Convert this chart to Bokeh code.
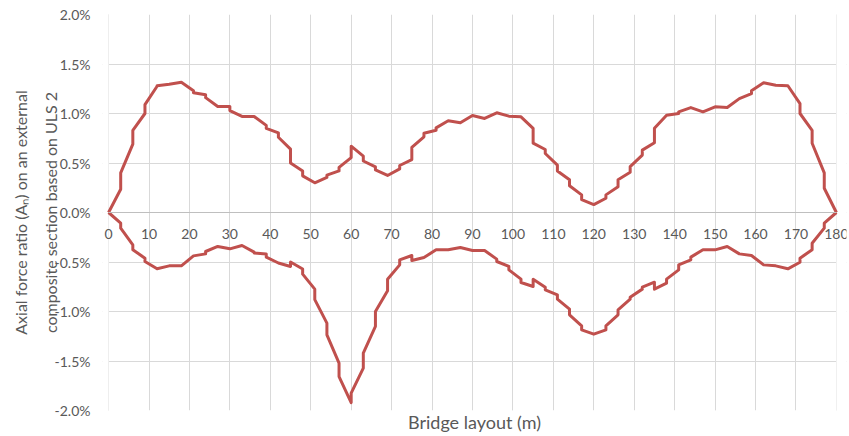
from bokeh.plotting import figure
from bokeh.models import LinearAxis, FixedTicker, PrintfTickFormatter, Range1d, Grid, BoxAnnotation
from bokeh.embed import file_html
from bokeh.resources import INLINE

# Bridge layout positions (m) and axial force ratio (%) - upper envelope
upper_x = [0, 3, 3, 6, 6, 9, 9, 12, 12, 15, 18, 21, 21, 24, 24, 27, 30, 30, 33, 36,
           39, 39, 42, 42, 45, 45, 48, 48, 51, 54, 54, 57, 57, 60, 60, 63, 63, 66, 66, 69,
           72, 72, 75, 75, 78, 78, 81, 81, 84, 87, 90, 93, 96, 99, 102, 105, 105, 108, 108,
           111, 111, 114, 114, 117, 117, 120, 123, 123, 126, 126, 129, 129, 132, 132, 135, 135,
           138, 141, 141, 144, 147, 150, 153, 156, 159, 159, 162, 165, 168, 171, 171, 174, 174,
           177, 177, 180]
upper_v = [0, 0.235, 0.40, 0.69, 0.83, 1.0, 1.09, 1.275, 1.28, 1.295, 1.315, 1.23, 1.21, 1.19, 1.16, 1.07, 1.07, 1.03, 0.97, 0.97,
           0.88, 0.85, 0.805, 0.76, 0.64, 0.50, 0.42, 0.37, 0.30, 0.354, 0.377, 0.42, 0.455, 0.555, 0.67, 0.57, 0.52, 0.46, 0.43, 0.374,
           0.44, 0.475, 0.535, 0.657, 0.764, 0.80, 0.83, 0.855, 0.926, 0.906, 0.98, 0.95, 1.007, 0.973, 0.966, 0.85, 0.70, 0.636, 0.596,
           0.478, 0.42, 0.33, 0.27, 0.178, 0.13, 0.08, 0.144, 0.178, 0.26, 0.33, 0.406, 0.463, 0.58, 0.63, 0.705, 0.85,
           0.983, 1.0, 1.017, 1.06, 1.017, 1.067, 1.06, 1.15, 1.20, 1.23, 1.31, 1.285, 1.28, 1.10, 1.0, 0.83, 0.70,
           0.40, 0.245, 0]

# lower envelope
lower_x = [0, 3, 3, 6, 6, 9, 9, 12, 15, 18, 21, 24, 24, 27, 30, 33, 36, 36, 39, 39,
           42, 45, 45, 48, 48, 51, 51, 54, 54, 57, 57, 60, 60, 63, 63, 66, 66, 69, 69,
           72, 72, 75, 75, 78, 81, 84, 87, 90, 93, 96, 96, 99, 99, 102, 102, 105, 105,
           108, 108, 111, 111, 114, 114, 117, 117, 120, 123, 123, 126, 126, 129, 129,
           132, 132, 135, 135, 138, 138, 141, 141, 144, 144, 147, 150, 153, 156, 159,
           162, 165, 168, 171, 171, 174, 174, 177, 177, 180]
lower_v = [0, -0.108, -0.158, -0.327, -0.377, -0.461, -0.495, -0.569, -0.539, -0.539, -0.438, -0.418, -0.394, -0.343, -0.367, -0.333, -0.40, -0.41, -0.42, -0.451,
           -0.51, -0.545, -0.50, -0.57, -0.623, -0.774, -0.88, -1.118, -1.236, -1.522, -1.657, -1.92, -1.825, -1.572, -1.42, -1.15, -1.0, -0.79, -0.675,
           -0.529, -0.478, -0.434, -0.485, -0.455, -0.377, -0.377, -0.354, -0.384, -0.384, -0.471, -0.495, -0.545, -0.579, -0.673, -0.707, -0.747, -0.673,
           -0.754, -0.781, -0.832, -0.875, -0.976, -1.034, -1.145, -1.185, -1.229, -1.185, -1.145, -1.034, -0.983, -0.875, -0.855,
           -0.774, -0.754, -0.704, -0.774, -0.714, -0.673, -0.579, -0.529, -0.478, -0.451, -0.377, -0.377, -0.343, -0.418, -0.434,
           -0.529, -0.539, -0.569, -0.502, -0.461, -0.377, -0.31, -0.158, -0.108, 0]

x_ticks = [0, 10, 20, 30, 40, 50, 60, 70, 80, 90, 100, 110, 120, 130, 140, 150, 160, 170, 180]
y_ticks = [-2.0, -1.5, -1.0, -0.5, 0.0, 0.5, 1.0, 1.5, 2.0]

assert len(upper_x) == len(upper_v)
assert len(lower_x) == len(lower_v)

FONT = "Lato"
GREY_TXT = "#595959"
GRID = "#D9D9D9"
RED = "#C0504D"

X0, X1 = x_ticks[0], x_ticks[-1]

p = figure(width=849, height=436, output_backend="svg", toolbar_location=None,
           x_range=Range1d(X0 - 1.5, X1 + 2.5), y_range=Range1d(y_ticks[0], y_ticks[-1]),
           x_axis_location=None,
           min_border_left=102, min_border_right=3, min_border_top=14, min_border_bottom=26)
p.outline_line_color = None
p.background_fill_color = "white"
p.border_fill_color = "white"

# y axis
p.yaxis.ticker = FixedTicker(ticks=y_ticks)
p.yaxis.formatter = PrintfTickFormatter(format="%.1f%%")
p.yaxis.major_tick_line_color = None
p.yaxis.minor_tick_line_color = None
p.yaxis.axis_line_color = None
p.yaxis.major_label_standoff = 6
p.yaxis.major_label_text_font = FONT
p.yaxis.major_label_text_font_size = "14px"
p.yaxis.major_label_text_color = GREY_TXT
p.yaxis.axis_label = "Axial force ratio (A\u2099) on an external\ncomposite section based on ULS 2"
p.yaxis.axis_label_text_font = FONT
p.yaxis.axis_label_text_font_size = "16px"
p.yaxis.axis_label_text_font_style = "normal"
p.yaxis.axis_label_text_color = GREY_TXT
p.yaxis.axis_label_standoff = -8
p.yaxis.axis_label_text_line_height = 1.55

p.ygrid.ticker = FixedTicker(ticks=y_ticks)
p.ygrid.grid_line_color = GRID

xgrid = Grid(dimension=0, ticker=FixedTicker(ticks=x_ticks), grid_line_color=GRID)
p.add_layout(xgrid)

# white masks so the horizontal gridlines stop at 0 and 180 m
p.add_layout(BoxAnnotation(right=X0, fill_color="white", fill_alpha=1, line_color=None, level="underlay"))
p.add_layout(BoxAnnotation(left=X1, fill_color="white", fill_alpha=1, line_color=None, level="underlay"))

# x axis drawn at y = 0
xaxis0 = LinearAxis(ticker=FixedTicker(ticks=x_ticks), fixed_location=0, bounds=(X0, X1),
                    major_tick_line_color=None, minor_tick_line_color=None,
                    axis_line_color="#BFBFBF", major_label_standoff=10,
                    major_label_text_font=FONT, major_label_text_font_size="14px",
                    major_label_text_color=GREY_TXT)
p.add_layout(xaxis0, "below")

# x axis title
xtitle = LinearAxis(ticker=FixedTicker(ticks=[]), axis_label="Bridge layout (m)",
                    axis_line_color=None, major_tick_line_color=None, minor_tick_line_color=None,
                    major_label_text_font_size="0px", axis_label_standoff=0,
                    axis_label_text_font=FONT, axis_label_text_font_size="18px",
                    axis_label_text_font_style="normal", axis_label_text_color=GREY_TXT)
p.add_layout(xtitle, "below")

p.line(upper_x, upper_v, line_color=RED, line_width=3, line_join="round")
p.line(lower_x, lower_v, line_color=RED, line_width=3, line_join="round")

open("out.html", "w").write(file_html(p, INLINE))
